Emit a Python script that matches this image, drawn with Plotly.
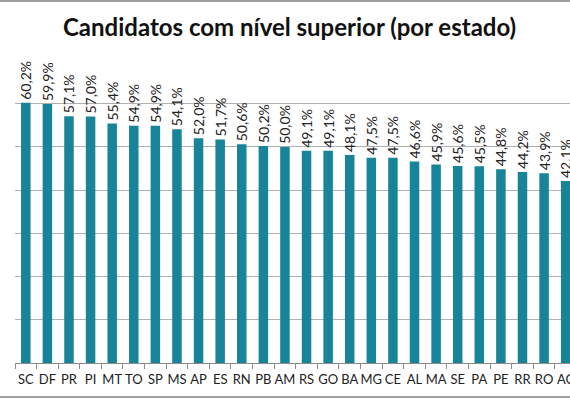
import plotly.graph_objects as go

# Data
estados = ["SC", "DF", "PR", "PI", "MT", "TO", "SP", "MS", "AP", "ES", "RN", "PB", "AM",
           "RS", "GO", "BA", "MG", "CE", "AL", "MA", "SE", "PA", "PE", "RR", "RO", "AC"]
percentuais = [60.2, 59.9, 57.1, 57.0, 55.4, 54.9, 54.9, 54.1, 52.0, 51.7, 50.6, 50.2, 50.0,
               49.1, 49.1, 48.1, 47.5, 47.5, 46.6, 45.9, 45.6, 45.5, 44.8, 44.2, 43.9, 42.1]
rotulos = [f"{v:.1f}%".replace(".", ",") for v in percentuais]

bar_color = "#17849A"
grid_color = "#B0B0B0"

fig = go.Figure(go.Bar(
    x=estados,
    y=percentuais,
    text=rotulos,
    textposition="outside",
    textangle=-90,
    constraintext="none",
    cliponaxis=False,
    textfont=dict(family="Lato", size=14, color="#222222"),
    marker=dict(color=bar_color, line=dict(width=0)),
    width=0.44,
))

fig.update_layout(
    width=570,
    height=400,
    margin=dict(l=15, r=0, t=60, b=37),
    paper_bgcolor="white",
    plot_bgcolor="white",
    showlegend=False,
    title=dict(
        text="<b>Candidatos com nível superior (por estado)</b>",
        x=0.508, xanchor="center", y=0.93, yanchor="middle",
        font=dict(family="Lato", size=24, color="#111111"),
    ),
    font=dict(family="Lato", color="#222222"),
)

fig.update_xaxes(
    range=[-0.5, 25.2],
    automargin=False,
    tickangle=0,
    showline=True, linecolor="#8C8C8C", linewidth=1,
    ticks="outside", tickson="boundaries", ticklen=5, tickcolor="#8C8C8C",
    ticklabelstandoff=4,
    tickfont=dict(family="Lato", size=13, color="#222222"),
    showgrid=False,
)

fig.update_yaxes(
    type="linear",
    range=[0, 70.1],
    tick0=0,
    dtick=10,
    ticksuffix="%",
    showgrid=True, gridcolor=grid_color, gridwidth=1,
    zeroline=False,
    showline=False,
    automargin=False,
    ticks="outside", ticklen=12, tickcolor="white",
    tickfont=dict(family="Lato", size=12, color="#222222"),
)

# Border lines of the original picture, top and bottom
fig.add_shape(type="line", xref="paper", yref="paper",
              x0=-0.05, x1=1.05, y0=1.195, y1=1.195,
              line=dict(color="#A0A0A0", width=2))
fig.add_shape(type="line", xref="paper", yref="paper",
              x0=-0.05, x1=1.05, y0=-0.112, y1=-0.112,
              line=dict(color="#A0A0A0", width=2))

# the page body has a default margin; remove it so the figure sits at the window corner
fig.write_html("out.html", config={"displayModeBar": False},
               post_script="document.body.style.margin='0px';")
